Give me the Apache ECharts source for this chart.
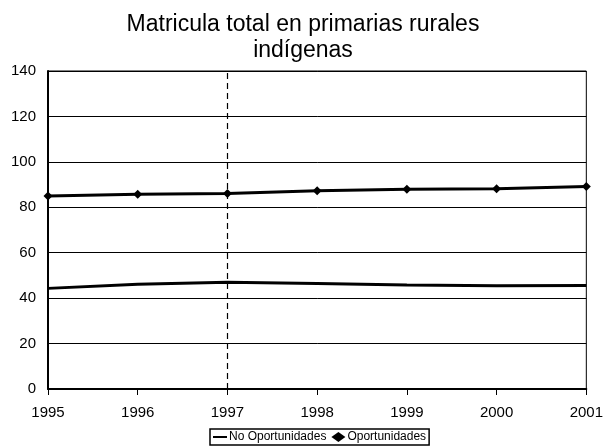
<!DOCTYPE html>
<html>
<head>
<meta charset="utf-8">
<script src="https://cdn.jsdelivr.net/npm/echarts@6/dist/echarts.min.js"></script>
<style>
  html, body {margin: 0; padding: 0; background: #fff;}
  #chart {width: 606px; height: 447px;}
</style>
</head>
<body>
<div id="chart"></div>
<script>
// años del eje x
const years = ['1995', '1996', '1997', '1998', '1999', '2000', '2001'];
// matrícula
const no_oportunidades = [44.3, 46.1, 47.0, 46.5, 45.8, 45.5, 45.6];
const oportunidades = [85.0, 85.7, 86.1, 87.3, 87.9, 88.2, 89.2];
const inicio_programa = '1997';

function render_chart(dom_id) {
    let e = document.getElementById(dom_id);
    let chart = echarts.init(e, null, {renderer: 'canvas'});
    let font = 'Liberation Sans, Arial, sans-serif';

    let option = {
        animation: false,
        title: {
            text: 'Matricula total en primarias rurales\nindígenas',
            left: 'center', top: 7,
            textStyle: {fontFamily: font, fontSize: 23, fontWeight: 'normal', color: '#000', lineHeight: 26}
        },
        grid: {left: 48, right: 18, top: 71, bottom: 58, show: true, borderColor: '#000', borderWidth: 1},
        xAxis: {
            type: 'category', data: years, boundaryGap: false,
            axisLine: {lineStyle: {color: '#000', width: 2}},
            axisTick: {show: true, length: 6, lineStyle: {color: '#000', width: 1}},
            axisLabel: {fontFamily: font, fontSize: 15, color: '#000', margin: 16, showMaxLabel: true},
            splitLine: {show: false}
        },
        yAxis: {
            type: 'value', min: 0, max: 140, interval: 20,
            axisLine: {show: true, lineStyle: {color: '#000', width: 2}},
            axisTick: {show: false},
            axisLabel: {fontFamily: font, fontSize: 15, color: '#000', margin: 12},
            splitLine: {show: true, lineStyle: {color: '#000', width: 1}}
        },
        legend: {
            bottom: 2, left: 210,
            itemWidth: 14, itemHeight: 10, itemGap: 5,
            padding: [2, 3], borderColor: '#000', borderWidth: 1.5,
            textStyle: {fontFamily: font, fontSize: 12, color: '#000', padding: [0, 0, 0, -3]},
            data: [
                {name: 'No Oportunidades', icon: 'path://M0,4 L14,4 L14,6 L0,6 Z'},
                {name: 'Oportunidades', icon: 'diamond'}
            ]
        },
        series: [
            {
                name: 'No Oportunidades', type: 'line', data: no_oportunidades,
                symbol: 'none', color: '#000',
                lineStyle: {color: '#000', width: 3},
                markLine: {
                    silent: true, symbol: 'none', label: {show: false},
                    lineStyle: {color: '#000', type: [6, 4], width: 1.2},
                    data: [{xAxis: inicio_programa}]
                }
            },
            {
                name: 'Oportunidades', type: 'line', data: oportunidades,
                symbol: 'diamond', symbolSize: 9, color: '#000',
                itemStyle: {color: '#000'},
                lineStyle: {color: '#000', width: 3}
            }
        ]
    };
    chart.setOption(option);
}

render_chart('chart');
</script>
</body>
</html>
